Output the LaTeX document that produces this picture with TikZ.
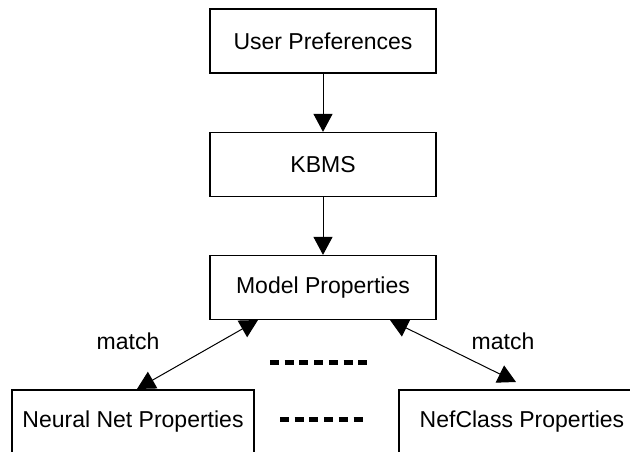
\documentclass[tikz,border=0pt]{standalone}
\usepackage{fontspec}
\setmainfont{Liberation Sans}
\usetikzlibrary{arrows.meta}
\begin{document}
\begin{tikzpicture}[x=1pt,y=-1pt,
  box/.style={draw=black,line width=1.2pt,rectangle,inner sep=0pt,minimum height=64pt,
    font=\fontsize{23}{27}\selectfont},
  conn/.style={draw=black,line width=1pt},
  tip/.style={-{Triangle[width=19pt,length=18pt]}},
  bitip/.style={{Triangle[width=19pt,length=18pt]}-{Triangle[width=19pt,length=18pt]}},
  dots/.style={draw=black,line width=5pt,dash pattern=on 9pt off 5.7pt},
  lbl/.style={font=\fontsize{23}{27}\selectfont,inner sep=0pt}]
\useasboundingbox (0,0) rectangle (630,452);
\clip (0,0) rectangle (630,452);
\fill[white] (0,0) rectangle (630,452);
\node[box,minimum width=226pt] (up) at (323,41) {User Preferences};
\node[box,minimum width=226pt] (kbms) at (323,164.5) {KBMS};
\node[box,minimum width=226pt] (model) at (323,287.5) {Model Properties};
\node[box,minimum width=242pt] (nn) at (133,422) {Neural Net Properties};
\node[box,minimum width=246pt] (nef) at (522,422) {NefClass Properties};
\draw[conn,tip] (up.south) -- (kbms.north);
\draw[conn,tip] (kbms.south) -- (model.north);
\coordinate (mL) at (258,320);
\coordinate (nL) at (137,389);
\coordinate (mR) at (390,320);
\coordinate (nR) at (516,382);
\draw[conn,bitip] (mL) -- (nL);
\draw[conn,bitip] (mR) -- (nR);
\node[lbl] (m1) at (128,341) {match};
\node[lbl] (m2) at (503,341) {match};
\coordinate (d1a) at (270,362);
\coordinate (d1b) at (367,362);
\coordinate (d2a) at (280,419);
\coordinate (d2b) at (363,419);
\draw[dots] (d1a) -- (d1b);
\draw[dots] (d2a) -- (d2b);
\end{tikzpicture}
\end{document}
